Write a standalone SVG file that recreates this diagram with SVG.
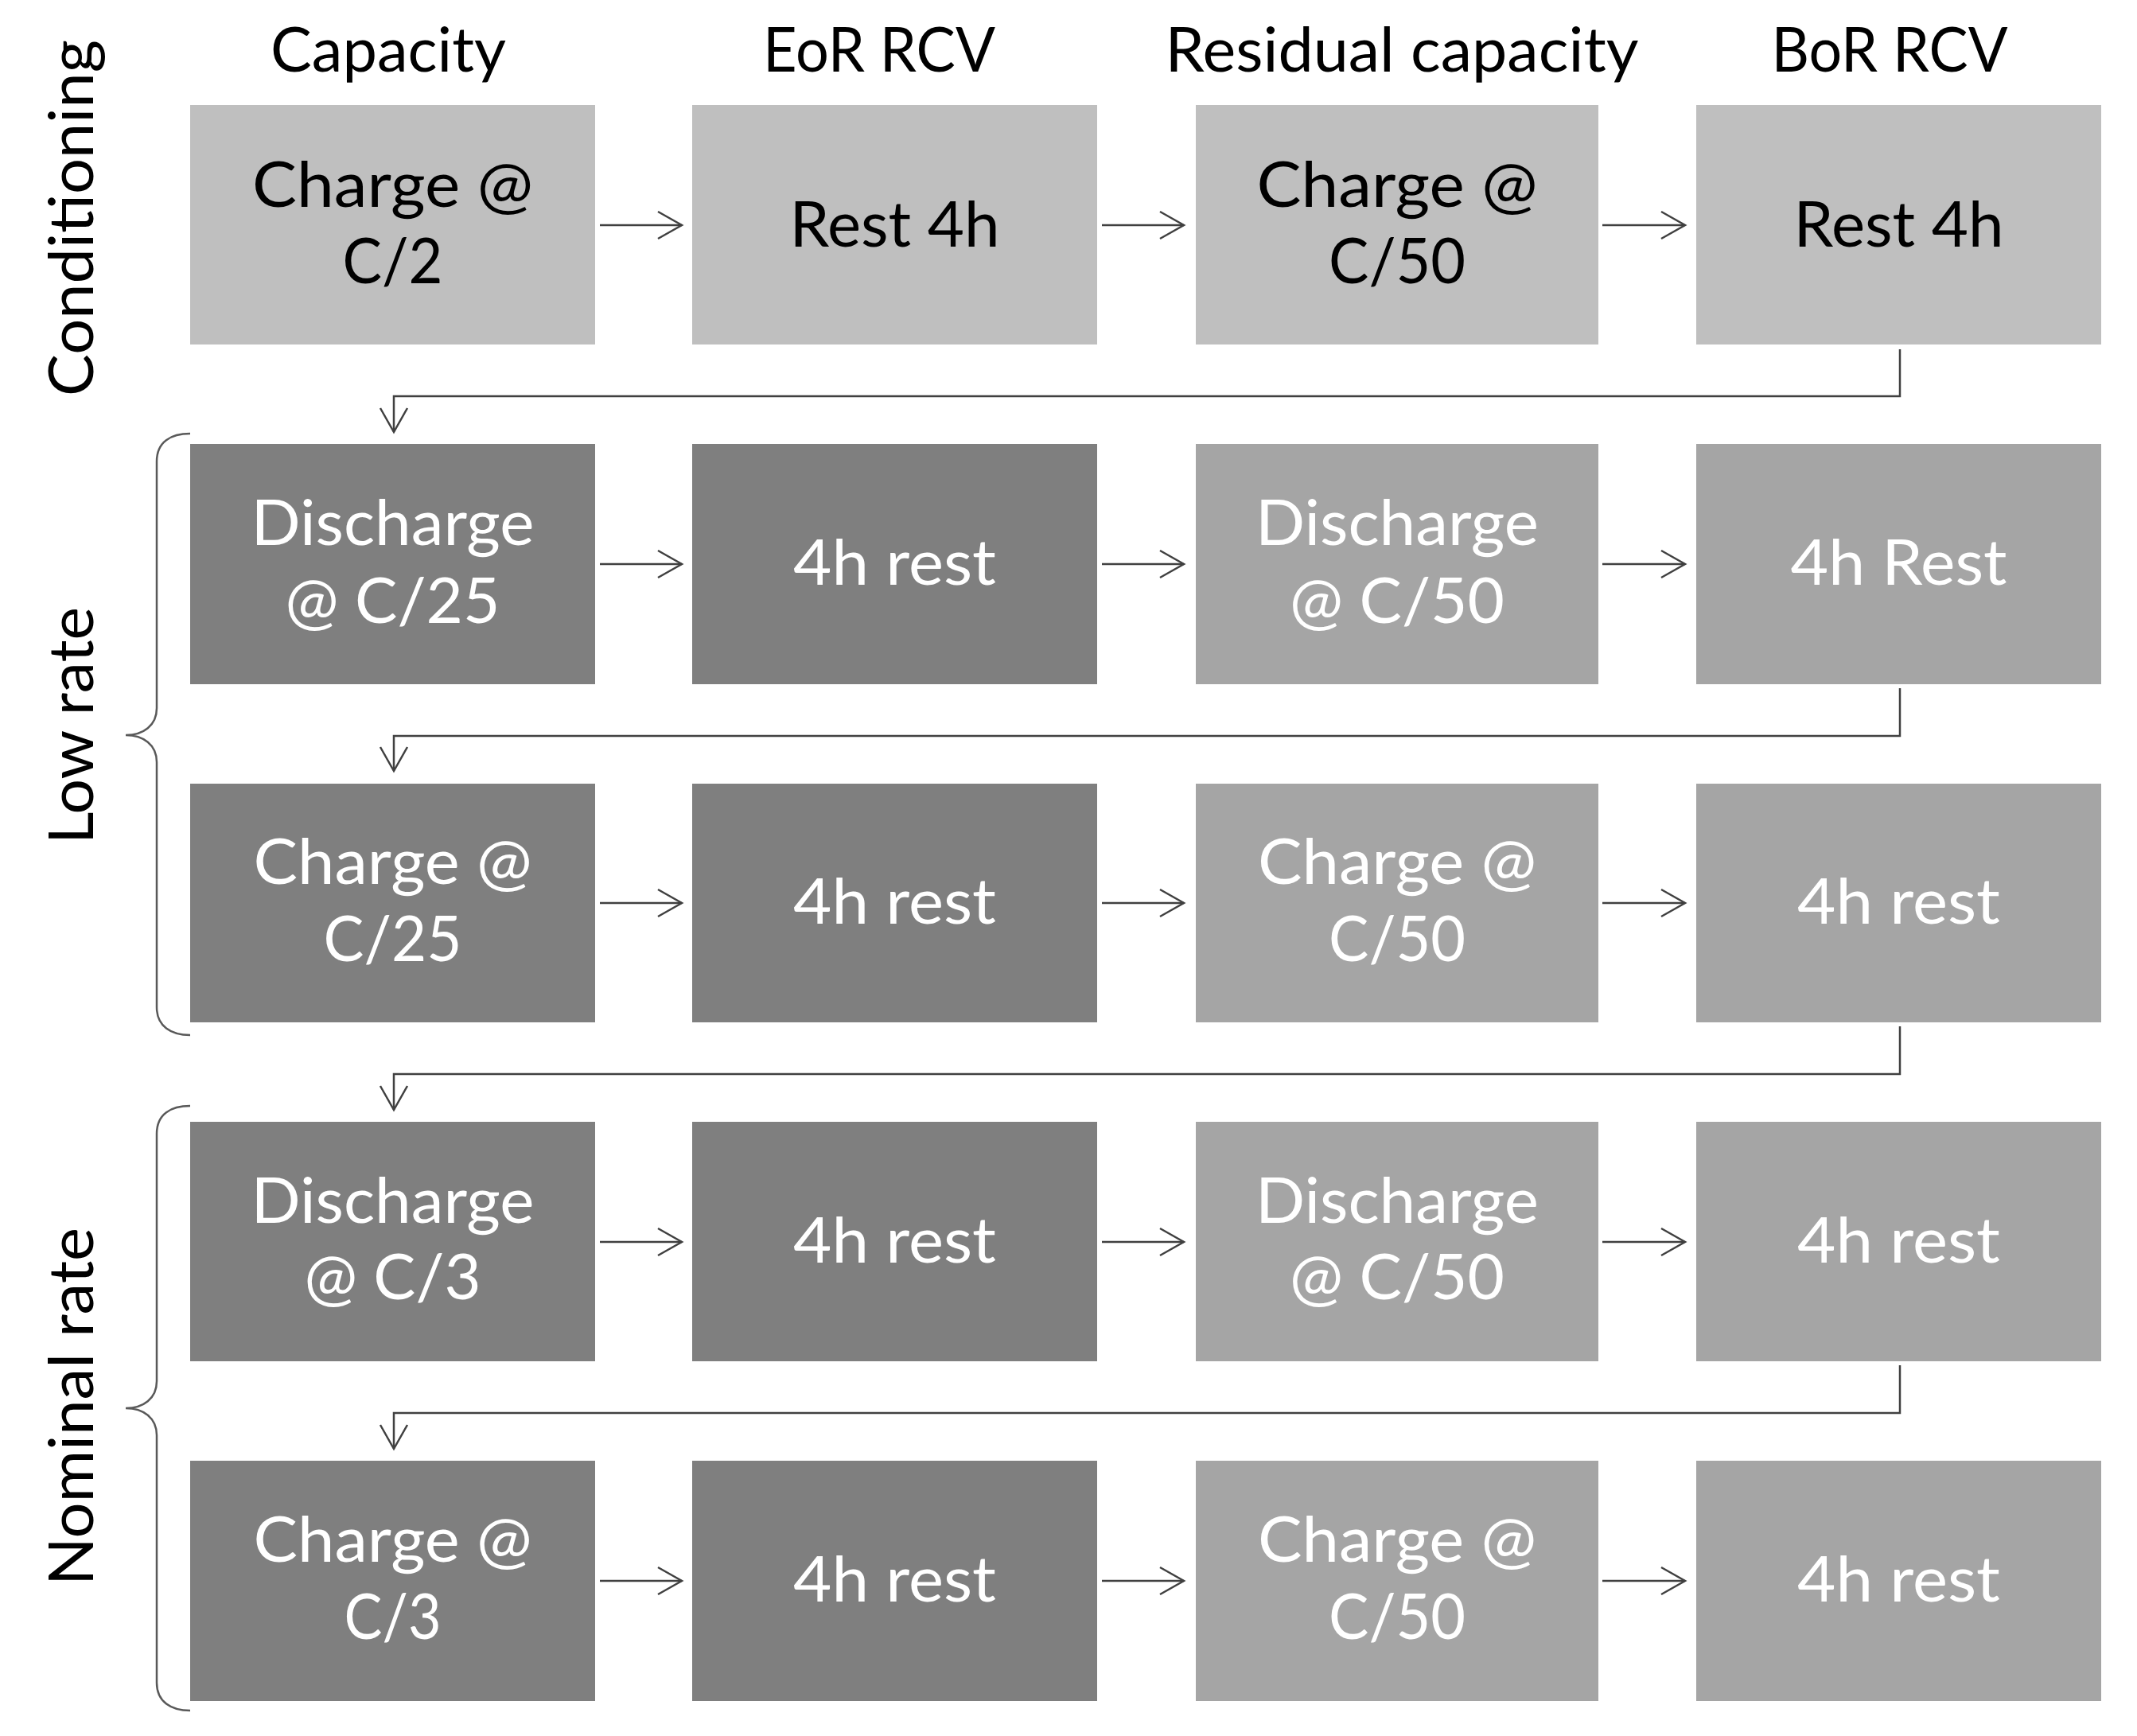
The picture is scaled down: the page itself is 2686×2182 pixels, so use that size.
<svg xmlns="http://www.w3.org/2000/svg" width="2686" height="2182" viewBox="0 0 2686 2182">
<style>
text{font-family:Lato,"Liberation Sans",sans-serif;text-anchor:middle}
.hd{font-size:78px;fill:#000}
.bx{font-size:80px}
.lt{fill:#BFBFBF}
.dk{fill:#7F7F7F}
.md{fill:#A5A5A5}
.tb{fill:#000}
.tw{fill:#fff}
.side{font-size:78px;fill:#000}
.conn{fill:none;stroke:#404040;stroke-width:2.5}
.brace{fill:none;stroke:#595959;stroke-width:2.5}
</style>
<defs>
<marker id="ah" viewBox="-34 -21 38 42" refX="0" refY="0" markerWidth="38" markerHeight="42" markerUnits="userSpaceOnUse" orient="auto">
<path d="M-30,-17 L0,0 L-30,17" fill="none" stroke="#404040" stroke-width="2.5"/>
</marker>
</defs>
<rect width="2686" height="2182" fill="#fff"/>
<g id="headers">
<text class="hd" x="488" y="90" textLength="296" lengthAdjust="spacingAndGlyphs">Capacity</text>
<text class="hd" x="1105" y="90" textLength="292" lengthAdjust="spacingAndGlyphs">EoR RCV</text>
<text class="hd" x="1762" y="90" textLength="595" lengthAdjust="spacingAndGlyphs">Residual capacity</text>
<text class="hd" x="2375" y="90" textLength="297" lengthAdjust="spacingAndGlyphs">BoR RCV</text>
</g>
<g id="side-labels">
<text class="side" transform="translate(117,274) rotate(-90)" textLength="448" lengthAdjust="spacingAndGlyphs">Conditioning</text>
<text class="side" transform="translate(117,912) rotate(-90)" textLength="298" lengthAdjust="spacingAndGlyphs">Low rate</text>
<text class="side" transform="translate(117,1768) rotate(-90)" textLength="450" lengthAdjust="spacingAndGlyphs">Nominal rate</text>
<path id="brace-low" class="brace" d="M239,545 C215,545 197,555 197,580 L197,890 C197,912 180,924 158,924 C180,924 197,936 197,958 L197,1266 C197,1290 215,1301 239,1301"/>
<path id="brace-nominal" class="brace" d="M239,1390 C215,1390 197,1400 197,1425 L197,1736 C197,1758 180,1770 158,1770 C180,1770 197,1782 197,1804 L197,2115 C197,2139 215,2150 239,2150"/>
</g>
<!-- Row 1: Conditioning -->
<g id="r1c1"><rect class="lt" x="239" y="132" width="509" height="301"/><text class="bx tb" x="493.5" y="260" textLength="353" lengthAdjust="spacingAndGlyphs">Charge @</text><text class="bx tb" x="493.5" y="356" textLength="126" lengthAdjust="spacingAndGlyphs">C/2</text></g>
<g id="r1c2"><rect class="lt" x="870" y="132" width="509" height="301"/><text class="bx tb" x="1124.5" y="310" textLength="264" lengthAdjust="spacingAndGlyphs">Rest 4h</text></g>
<g id="r1c3"><rect class="lt" x="1503" y="132" width="506" height="301"/><text class="bx tb" x="1756" y="260" textLength="353" lengthAdjust="spacingAndGlyphs">Charge @</text><text class="bx tb" x="1756" y="356" textLength="172" lengthAdjust="spacingAndGlyphs">C/50</text></g>
<g id="r1c4"><rect class="lt" x="2132" y="132" width="509" height="301"/><text class="bx tb" x="2386.5" y="310" textLength="264" lengthAdjust="spacingAndGlyphs">Rest 4h</text></g>
<!-- Row 2 -->
<g id="r2c1"><rect class="dk" x="239" y="558" width="509" height="302"/><text class="bx tw" x="493.5" y="685" textLength="356" lengthAdjust="spacingAndGlyphs">Discharge</text><text class="bx tw" x="493.5" y="783" textLength="270" lengthAdjust="spacingAndGlyphs">@ C/25</text></g>
<g id="r2c2"><rect class="dk" x="870" y="558" width="509" height="302"/><text class="bx tw" x="1124.5" y="735" textLength="255" lengthAdjust="spacingAndGlyphs">4h rest</text></g>
<g id="r2c3"><rect class="md" x="1503" y="558" width="506" height="302"/><text class="bx tw" x="1756" y="685" textLength="356" lengthAdjust="spacingAndGlyphs">Discharge</text><text class="bx tw" x="1756" y="783" textLength="270" lengthAdjust="spacingAndGlyphs">@ C/50</text></g>
<g id="r2c4"><rect class="md" x="2132" y="558" width="509" height="302"/><text class="bx tw" x="2386.5" y="735" textLength="272" lengthAdjust="spacingAndGlyphs">4h Rest</text></g>
<!-- Row 3 -->
<g id="r3c1"><rect class="dk" x="239" y="985" width="509" height="300"/><text class="bx tw" x="493.5" y="1111" textLength="350" lengthAdjust="spacingAndGlyphs">Charge @</text><text class="bx tw" x="493.5" y="1208" textLength="174" lengthAdjust="spacingAndGlyphs">C/25</text></g>
<g id="r3c2"><rect class="dk" x="870" y="985" width="509" height="300"/><text class="bx tw" x="1124.5" y="1161" textLength="255" lengthAdjust="spacingAndGlyphs">4h rest</text></g>
<g id="r3c3"><rect class="md" x="1503" y="985" width="506" height="300"/><text class="bx tw" x="1756" y="1111" textLength="350" lengthAdjust="spacingAndGlyphs">Charge @</text><text class="bx tw" x="1756" y="1208" textLength="172" lengthAdjust="spacingAndGlyphs">C/50</text></g>
<g id="r3c4"><rect class="md" x="2132" y="985" width="509" height="300"/><text class="bx tw" x="2386.5" y="1161" textLength="255" lengthAdjust="spacingAndGlyphs">4h rest</text></g>
<!-- Row 4 -->
<g id="r4c1"><rect class="dk" x="239" y="1410" width="509" height="301"/><text class="bx tw" x="493.5" y="1537" textLength="356" lengthAdjust="spacingAndGlyphs">Discharge</text><text class="bx tw" x="493.5" y="1633" textLength="222" lengthAdjust="spacingAndGlyphs">@ C/3</text></g>
<g id="r4c2"><rect class="dk" x="870" y="1410" width="509" height="301"/><text class="bx tw" x="1124.5" y="1587" textLength="255" lengthAdjust="spacingAndGlyphs">4h rest</text></g>
<g id="r4c3"><rect class="md" x="1503" y="1410" width="506" height="301"/><text class="bx tw" x="1756" y="1537" textLength="356" lengthAdjust="spacingAndGlyphs">Discharge</text><text class="bx tw" x="1756" y="1633" textLength="270" lengthAdjust="spacingAndGlyphs">@ C/50</text></g>
<g id="r4c4"><rect class="md" x="2132" y="1410" width="509" height="301"/><text class="bx tw" x="2386.5" y="1587" textLength="255" lengthAdjust="spacingAndGlyphs">4h rest</text></g>
<!-- Row 5 -->
<g id="r5c1"><rect class="dk" x="239" y="1836" width="509" height="302"/><text class="bx tw" x="493.5" y="1963" textLength="350" lengthAdjust="spacingAndGlyphs">Charge @</text><text class="bx tw" x="493.5" y="2060" textLength="122" lengthAdjust="spacingAndGlyphs">C/3</text></g>
<g id="r5c2"><rect class="dk" x="870" y="1836" width="509" height="302"/><text class="bx tw" x="1124.5" y="2013" textLength="255" lengthAdjust="spacingAndGlyphs">4h rest</text></g>
<g id="r5c3"><rect class="md" x="1503" y="1836" width="506" height="302"/><text class="bx tw" x="1756" y="1963" textLength="350" lengthAdjust="spacingAndGlyphs">Charge @</text><text class="bx tw" x="1756" y="2060" textLength="172" lengthAdjust="spacingAndGlyphs">C/50</text></g>
<g id="r5c4"><rect class="md" x="2132" y="1836" width="509" height="302"/><text class="bx tw" x="2386.5" y="2013" textLength="255" lengthAdjust="spacingAndGlyphs">4h rest</text></g>
<g id="connectors">
<line class="conn" x1="754" y1="283" x2="857" y2="283" marker-end="url(#ah)"/>
<line class="conn" x1="1385" y1="283" x2="1488" y2="283" marker-end="url(#ah)"/>
<line class="conn" x1="2014" y1="283" x2="2118" y2="283" marker-end="url(#ah)"/>
<line class="conn" x1="754" y1="709" x2="857" y2="709" marker-end="url(#ah)"/>
<line class="conn" x1="1385" y1="709" x2="1488" y2="709" marker-end="url(#ah)"/>
<line class="conn" x1="2014" y1="709" x2="2118" y2="709" marker-end="url(#ah)"/>
<line class="conn" x1="754" y1="1135" x2="857" y2="1135" marker-end="url(#ah)"/>
<line class="conn" x1="1385" y1="1135" x2="1488" y2="1135" marker-end="url(#ah)"/>
<line class="conn" x1="2014" y1="1135" x2="2118" y2="1135" marker-end="url(#ah)"/>
<line class="conn" x1="754" y1="1561" x2="857" y2="1561" marker-end="url(#ah)"/>
<line class="conn" x1="1385" y1="1561" x2="1488" y2="1561" marker-end="url(#ah)"/>
<line class="conn" x1="2014" y1="1561" x2="2118" y2="1561" marker-end="url(#ah)"/>
<line class="conn" x1="754" y1="1987" x2="857" y2="1987" marker-end="url(#ah)"/>
<line class="conn" x1="1385" y1="1987" x2="1488" y2="1987" marker-end="url(#ah)"/>
<line class="conn" x1="2014" y1="1987" x2="2118" y2="1987" marker-end="url(#ah)"/>
<path class="conn" d="M2388,439 L2388,498 L495,498 L495,543" marker-end="url(#ah)"/>
<path class="conn" d="M2388,865 L2388,925 L495,925 L495,969" marker-end="url(#ah)"/>
<path class="conn" d="M2388,1290 L2388,1350 L495,1350 L495,1395" marker-end="url(#ah)"/>
<path class="conn" d="M2388,1716 L2388,1776 L495,1776 L495,1821" marker-end="url(#ah)"/>
</g>
</svg>
